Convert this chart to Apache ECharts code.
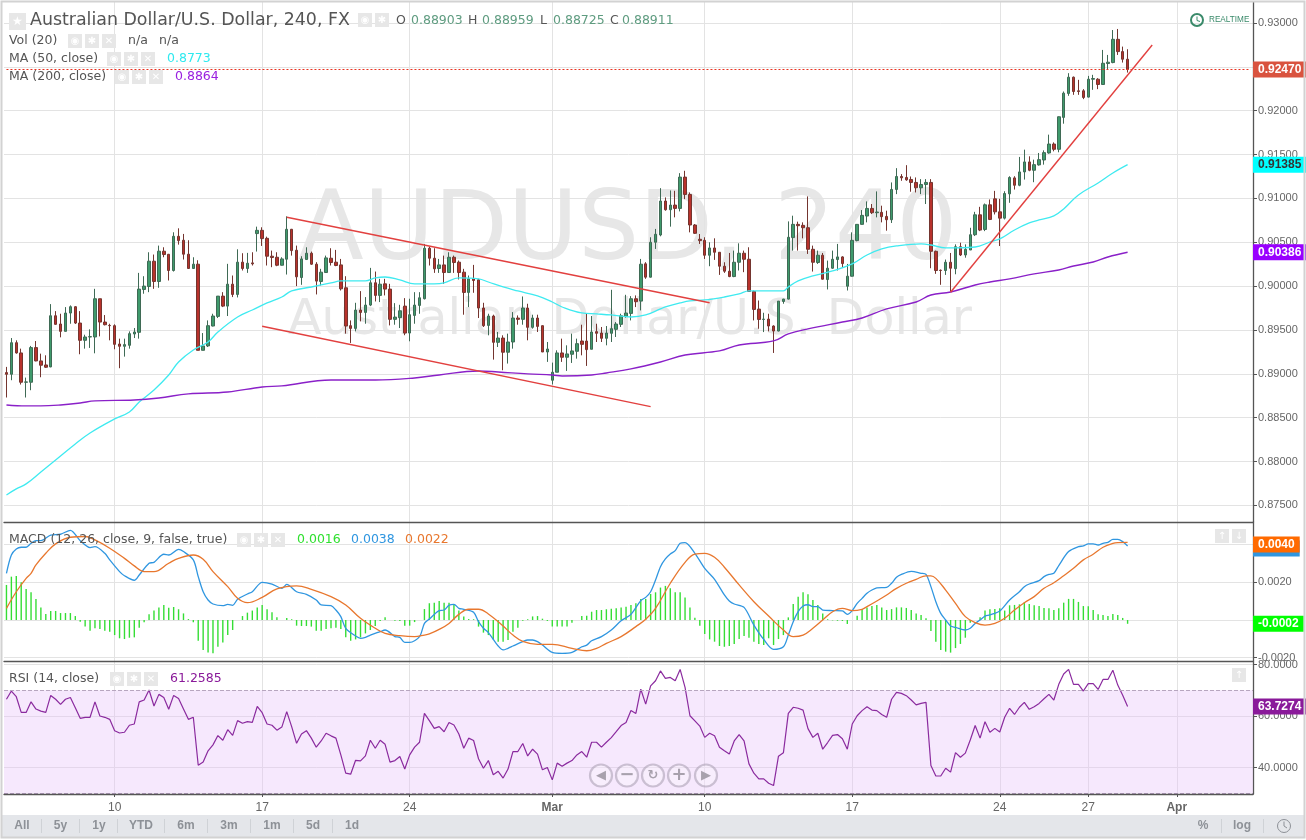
<!DOCTYPE html>
<html><head><meta charset="utf-8">
<style>html,body{margin:0;padding:0;background:#fff}#c{width:1306px;height:840px}</style>
<script src="https://cdn.jsdelivr.net/npm/echarts@6/dist/echarts.min.js"></script>
</head><body><div id="c"></div>
<script>
// --- candle values, in units of 0.00001 USD ---
const opens=[89014,88995,89355,89238,88904,88904,89299,89147,89101,89079,
89662,89568,89484,89693,89765,89579,89382,89420,89420,89856,
89590,89552,89549,89340,89314,89325,89454,89473,89962,89996,
90284,90053,90398,90363,90178,90568,90523,90364,90201,90250,
89268,89318,89545,89655,89886,89772,90022,89905,90273,90201,
90265,90599,90636,90545,90341,90329,90238,90307,90648,90409,
90098,90303,90375,90250,90053,90155,90318,90273,90242,89981,
89549,89518,89727,89700,89784,90038,89894,90026,89966,89621,
89640,89772,89465,89666,89780,89856,90432,90318,90201,90242,
90155,90329,90273,90159,89928,90083,90072,89750,89552,89659,
89359,89408,89246,89363,89636,89621,89750,89530,89636,89549,
89249,88927,89018,89238,89189,89223,89257,89374,89374,89280,
89481,89465,89405,89462,89507,89564,89655,89689,89856,89829,
90254,90102,90500,90583,90970,90871,90924,90886,91243,91045,
90697,90534,90522,90352,90435,90386,90227,90170,90109,90272,
90375,90306,89939,89738,89620,89624,89545,89488,89825,89852,
90553,90704,90693,90666,90420,90269,90352,90075,90204,90303,
90333,89999,90113,90519,90704,90799,90886,90837,90841,90795,
90757,91102,91250,91239,91216,91182,91121,91159,91182,90397,
90181,90178,90272,90199,90449,90355,90412,90586,90813,90646,
90927,90995,90847,90775,91052,91234,91150,91302,91416,91321,
91382,91438,91518,91620,91560,91924,92197,92382,92227,92227,
92155,92359,92359,92299,92538,92549,92814,92674,92587];
const closes=[88995,89355,89238,88904,88908,89299,89147,89098,89075,89662,
89564,89484,89693,89765,89579,89382,89420,89424,89856,89590,
89560,89549,89336,89314,89333,89458,89477,89966,90000,90284,
90053,90398,90360,90178,90568,90519,90364,90201,90250,89268,
89318,89549,89659,89886,89772,90022,89905,90273,90201,90261,
90254,90636,90542,90341,90326,90238,90310,90648,90405,90106,
90310,90375,90250,90057,90159,90322,90269,90235,89969,89545,
89518,89727,89700,89784,90038,89894,90022,89966,89621,89647,
89719,89465,89674,89784,89867,90432,90318,90197,90242,90155,
90329,90269,90155,89928,90083,90064,89750,89549,89659,89359,
89408,89246,89363,89636,89621,89750,89530,89636,89541,89249,
89283,89018,89238,89189,89227,89261,89344,89336,89276,89477,
89462,89405,89465,89515,89568,89662,89693,89856,89822,90250,
90102,90500,90591,90970,90871,90924,90886,91243,91045,90697,
90602,90519,90352,90435,90386,90227,90170,90109,90272,90375,
90306,89939,89734,89620,89624,89545,89488,89829,89852,90557,
90704,90689,90666,90420,90272,90352,90079,90204,90306,90333,
90257,90113,90522,90704,90807,90886,90837,90845,90792,90757,
91102,91250,91235,91212,91182,91121,91159,91182,90397,90178,
90178,90272,90204,90449,90355,90419,90586,90813,90639,90927,
90760,90847,90775,91056,91238,91150,91302,91416,91321,91385,
91442,91522,91620,91560,91931,92200,92382,92219,92219,92151,
92359,92367,92299,92541,92553,92814,92674,92587,92470];
const lows=[88730,88927,89230,88878,88730,88813,89143,88961,89067,89075,
89560,89416,89484,89571,89568,89223,89287,89295,89234,89427,
89552,89382,89280,89064,89196,89287,89408,89401,89913,89931,
89969,89981,90329,90064,90166,90473,90303,90197,90197,89268,
89268,89306,89541,89636,89761,89659,89875,89871,90178,90151,
90235,90394,90458,90235,90216,90227,90235,90132,90348,90000,
90015,90303,90242,89905,90007,90151,90235,90227,89950,89458,
89352,89484,89598,89571,89772,89825,89818,89894,89552,89560,
89522,89440,89371,89571,89685,89848,90235,90151,90151,90026,
90151,90151,90076,89674,89761,89924,89636,89534,89439,89162,
89306,89041,89117,89287,89560,89560,89382,89515,89477,89249,
89136,88878,89018,89136,89033,89124,89173,89211,89090,89280,
89363,89363,89325,89363,89420,89534,89640,89609,89761,89723,
90083,90098,90424,90568,90860,90678,90784,90852,90992,90613,
90594,90481,90310,90227,90299,90128,90151,90102,90102,90178,
90159,89939,89609,89514,89476,89484,89238,89484,89799,89848,
90405,90405,90545,90367,90166,90253,90075,89962,90197,90178,
90215,89950,90109,90511,90701,90727,90822,90784,90727,90632,
90720,91049,91201,91201,91076,91068,91049,90936,90204,90140,
90015,90128,89939,90135,90343,90324,90412,90571,90627,90627,
90753,90817,90457,90760,90950,91101,91139,91215,91310,91185,
91374,91385,91510,91537,91526,91852,92170,92181,92181,92132,
92151,92238,92246,92295,92473,92541,92636,92549,92435];
const highs=[89079,89408,89382,89287,88957,89318,89374,89230,89211,89795,
89715,89685,89761,89780,89772,89715,89446,89507,89969,89856,
89670,89571,89564,89401,89401,89484,89522,90151,90113,90386,
90360,90462,90443,90367,90614,90659,90595,90523,90329,90295,
89465,89609,89685,89886,89931,90254,90121,90420,90375,90379,
90386,90678,90671,90564,90405,90386,90329,90796,90652,90462,
90341,90443,90394,90273,90197,90348,90432,90413,90310,90113,
89609,89810,89943,89875,90208,90166,90083,90083,90026,89806,
89787,89863,89856,89931,89931,90481,90451,90432,90310,90348,
90386,90348,90292,90197,90121,90242,90083,89810,89685,89674,
89477,89439,89458,89704,89666,89882,89799,89674,89674,89552,
89363,89128,89268,89401,89325,89458,89401,89560,89685,89659,
89571,89534,89545,89958,89590,89685,89901,89886,89894,90310,
90273,90557,90652,91117,91011,91091,91087,91288,91315,91068,
90708,90594,90557,90500,90545,90386,90272,90378,90405,90488,
90405,90443,89950,89836,89696,89685,89553,89829,89855,90738,
90803,90735,90727,91023,90462,90405,90378,90291,90405,90481,
90341,90253,90613,90708,90867,90966,90936,91080,90917,90860,
91182,91345,91277,91379,91250,91239,91220,91220,91220,90405,
90189,90303,90378,90476,90495,90476,90665,90847,90904,90942,
90988,91086,90995,91082,91253,91253,91473,91556,91480,91442,
91518,91548,91727,91639,91935,92219,92428,92390,92352,92246,
92397,92409,92371,92693,92636,92920,92932,92731,92701];

// --- moving averages: sampled bar numbers and values ---
const ma50Bars=[0,2,4,7,10,14,17,22,25,27,30,33,35,38,41,43,47,50,53,56,58,62,66,68,73,75,77,80,83,87,89,92,96,98,101,104,108,111,113,117,120,123,127,130,133,134,137,139,142,146,149,151,158,159,161,164,168,172,175,178,181,186,188,191,197,200,202,205,208,210,213,215,218,222,225,228];
const ma50Vals=[87619,87688,87745,87881,88018,88201,88326,88486,88565,88679,88816,88987,89135,89272,89363,89477,89648,89728,89808,89876,89945,89990,90036,90059,90059,90093,90104,90070,90025,90025,90036,90093,90082,90047,89990,89945,89888,89819,89762,89694,89683,89671,89648,89671,89740,89762,89808,89831,89842,89876,89911,89945,89945,89990,90059,90116,90173,90253,90355,90424,90458,90481,90469,90435,90446,90503,90538,90640,90720,90754,90800,90880,91039,91176,91290,91385];
const ma200Bars=[0,4,7,11,15,18,26,31,37,45,52,56,66,75,83,88,96,100,106,111,113,119,122,127,133,138,145,149,156,159,163,170,174,179,185,188,192,197,200,204,209,214,217,221,224,228];
const ma200Vals=[88645,88634,88634,88645,88668,88691,88702,88725,88771,88793,88850,88862,88930,88930,88953,88987,89033,89021,88999,88987,88976,88987,89010,89056,89135,89215,89261,89329,89375,89455,89512,89591,89637,89740,89819,89899,89933,90013,90047,90082,90139,90184,90230,90275,90332,90386];

// --- hand-drawn trend lines: [bar, price*1e5] ends ---
const trendUpper=[[57,90785],[143,89811]];
const trendLower=[[52,89542],[131,88626]];
const trendRising=[[192,89930],[233,92749]];
const lastPriceLine=[[0,92470],[253,92470]];

// --- MACD, in units of 0.00001 ---
const macdHist=[186,230,234,200,165,147,112,67,32,48,48,37,37,37,21,-9,-35,-57,-44,-48,-57,-62,-80,-97,-101,-94,-92,-41,-12,30,50,67,80,65,69,57,35,5,-12,-110,-159,-173,-177,-142,-120,-80,-53,0,21,39,50,67,80,57,41,14,0,11,4,-30,-32,-32,-35,-57,-57,-48,-44,-41,-48,-92,-110,-103,-92,-71,-53,-32,-5,14,0,-4,-5,-30,-30,-11,0,58,89,92,101,
92,92,83,50,18,5,4,-35,-67,-80,-103,-115,-115,-106,-62,-41,-4,4,19,21,7,-5,-35,-35,-35,-35,-14,0,21,23,44,53,53,57,60,62,67,71,80,89,112,112,138,147,172,181,168,147,147,120,67,12,-30,-74,-103,-115,-138,-142,-138,-127,-101,-85,-94,-115,-127,-133,-97,-133,-101,-80,14,85,124,147,136,106,80,35,4,-2,-4,-5,-21,0,23,58,67,74,80,
67,53,58,67,67,64,53,35,27,9,-58,-115,-159,-168,-173,-149,-127,-94,-14,0,14,50,57,58,62,50,78,80,83,94,85,78,74,64,62,53,62,92,112,112,96,74,73,53,30,27,21,32,27,11,-20];
const macdBars=[0,1,2,3,4,5,6,7,9,11,13,15,17,18,20,21,23,24,26,27,29,30,32,33,35,36,38,39,40,41,42,44,45,46,47,49,50,52,54,56,57,59,61,63,64,66,67,68,69,71,72,73,74,76,77,79,80,81,82,84,85,86,88,89,90,91,92,93,95,96,97,98,100,101,102,103,105,106,107,108,109,111,113,115,117,118,119,121,123,125,127,129,130,131,132,133,134,135,136,137,138,140,142,144,146,147,148,150,152,154,156,158,159,160,161,162,163,164,165,166,168,170,171,172,173,174,175,176,177,179,180,181,182,184,186,187,188,189,190,191,192,193,195,196,197,198,199,200,202,204,206,207,208,210,211,212,213,214,216,218,219,220,221,222,223,224,225,226,227,228];
const macdVals=[248,345,377,386,386,407,421,421,451,455,476,421,384,389,354,319,257,235,211,239,301,306,349,345,375,363,319,230,150,106,85,76,83,78,110,138,150,200,191,168,189,150,136,106,80,76,53,18,-44,-85,-97,-92,-80,-62,-53,-88,-92,-119,-119,-88,-18,5,50,53,78,83,62,57,41,-9,-44,-67,-138,-159,-150,-138,-115,-106,-106,-115,-133,-172,-177,-172,-142,-133,-110,-88,-53,-4,30,103,120,150,212,283,324,350,368,407,411,354,274,216,133,101,85,67,-27,-103,-156,-142,-80,-9,44,74,81,71,71,53,50,48,30,50,88,115,142,159,170,173,195,227,242,258,248,242,177,97,35,0,-32,-39,-53,-44,-18,0,21,27,48,106,150,177,191,209,230,242,248,289,363,389,393,404,404,398,407,412,428,428,416,393];
const signalBars=[0,2,4,5,6,8,10,13,16,18,21,24,26,28,30,33,35,38,40,42,45,47,49,52,55,59,62,66,69,72,75,77,80,83,85,86,88,90,92,94,96,98,101,103,105,108,111,115,118,120,122,125,128,130,132,135,138,140,142,144,146,149,152,155,158,160,162,164,166,168,170,172,174,175,177,179,181,183,185,187,188,189,191,193,195,197,199,201,203,205,207,209,211,213,215,217,219,221,223,225,226,228];
const signalVals=[62,150,221,248,292,354,404,439,443,425,381,327,287,257,257,301,327,345,322,257,177,115,92,120,165,181,163,124,80,9,-44,-71,-83,-88,-80,-74,-50,-18,30,57,57,32,-32,-80,-113,-129,-129,-150,-163,-150,-124,-88,-35,4,62,195,306,349,354,333,280,186,97,21,-53,-88,-80,-44,0,44,62,50,57,71,101,133,168,195,216,234,234,221,159,88,18,-14,-27,-18,9,53,92,124,168,198,235,274,319,349,386,407,411,412];

// --- RSI ---
const rsiVals=[66.5,69.7,67.5,61.4,61.4,65.5,62.7,61.9,61.4,68.0,66.5,64.5,66.5,67.2,63.2,59.1,59.5,59.5,65.5,60.0,
59.5,58.7,54.3,53.4,53.7,56.4,56.9,65.5,66.2,70.1,63.9,68.4,67.2,62.6,68.0,66.8,62.7,58.7,59.5,40.9,
42.1,46.5,48.8,52.4,50.6,54.7,52.5,58.2,57.2,57.8,57.5,63.7,61.3,56.9,56.4,54.5,55.7,61.7,55.9,49.4,
53.0,54.3,51.4,47.9,50.3,53.3,52.3,51.4,44.9,37.8,37.4,42.8,42.6,44.5,50.6,47.5,50.6,49.0,42.1,42.7,
44.3,39.4,44.9,47.9,49.8,61.0,58.2,55.2,55.9,53.9,57.5,56.5,53.0,47.5,51.4,50.5,43.4,39.7,42.7,37.2,
38.5,35.9,39.4,46.2,46.2,49.3,44.5,47.1,45.2,39.1,40.0,35.2,41.7,40.5,41.7,42.7,44.9,46.2,44.0,49.8,
49.8,47.9,49.8,51.6,53.9,56.3,57.5,62.1,61.0,70.4,64.6,71.7,73.7,77.5,74.6,75.0,73.7,78.1,71.1,60.1,
58.1,56.1,51.7,53.3,52.3,47.9,46.5,45.2,50.3,52.8,50.3,41.4,37.8,35.6,35.6,33.9,33.0,44.4,45.7,61.0,
63.4,63.0,62.3,55.1,51.7,53.3,47.1,49.7,52.5,52.8,51.2,47.1,56.9,60.1,62.1,63.6,62.3,62.1,60.6,59.5,
66.5,69.2,68.8,67.9,66.2,64.3,64.9,65.3,40.8,36.7,36.7,39.7,38.2,45.8,44.0,45.6,50.7,56.3,51.4,57.8,
53.7,55.2,53.8,59.5,63.0,60.6,63.4,65.3,62.6,63.6,64.9,66.7,68.4,66.2,72.3,76.3,78.1,72.3,72.3,69.7,
72.6,72.6,70.3,74.2,74.2,77.8,72.0,68.1,63.73];

// --- axes ---
const tickBars=[22,52,82,111,142,172,202,220,238];
const tickLabels=['10','17','24','Mar','10','17','24','27','Apr'];
const priceTicks=[0.875,0.88,0.885,0.89,0.895,0.9,0.905,0.91,0.915,0.92,0.925,0.93];
const macdTicks=[-0.002,0,0.002,0.004];
const macdLabelTicks=[-0.002,0.002,0.004];
const rsiTicks=[40,60,80];

const BARS=254;
const categories=Array.from({length:BARS},(_,i)=>{const k=tickBars.indexOf(i);return k>=0?tickLabels[k]:'';});
const isTick=i=>tickBars.includes(i);
const GRID='#e3e3e3',AX='#555',TXT='#666';
const SANS='"Liberation Sans",Arial,sans-serif';
const DEJA='"DejaVu Sans",sans-serif';
const P=v=>v/1e5;
const pairs=(b,v,k)=>b.map((x,i)=>[x,v[i]*k]);
const candleData=opens.map((o,i)=>[P(o),P(closes[i]),P(lows[i]),P(highs[i])]);

function xAxis(idx,labels){return {type:'category',gridIndex:idx,data:categories,boundaryGap:true,
  axisLine:{show:true,onZero:false,lineStyle:{color:AX,width:1.3}},
  axisTick:{show:labels,alignWithLabel:true,interval:i=>isTick(i),length:3,lineStyle:{color:AX}},
  splitLine:{show:true,alignWithLabel:true,interval:i=>isTick(i),lineStyle:{color:GRID}},
  axisLabel:{show:labels,interval:i=>isTick(i),margin:8,color:TXT,fontSize:12,fontFamily:SANS,
    formatter:v=>/[A-Za-z]/.test(v)?'{b|'+v+'}':v,rich:{b:{fontWeight:'bold',fontSize:12,color:TXT,fontFamily:SANS}}}};}
function yAxis(idx,min,max,ticks,labelTicks,dec){return {type:'value',gridIndex:idx,position:'right',min,max,
  axisLine:{show:true,lineStyle:{color:AX,width:1.3}},
  axisTick:{show:true,length:4,customValues:ticks,lineStyle:{color:AX}},
  splitLine:{show:true,lineStyle:{color:GRID}},
  axisLabel:{show:true,customValues:labelTicks,margin:5,color:TXT,fontSize:11,fontFamily:SANS,formatter:v=>v.toFixed(dec)}};}
function tag(value,text,bg,fg){return {yAxis:value,lineStyle:{color:'rgba(0,0,0,0)',width:0},
  label:{show:true,position:'end',distance:0,formatter:text,color:fg||'#fff',backgroundColor:bg,fontSize:12,fontWeight:'bold',
    fontFamily:SANS,padding:[2,5,2,5],lineHeight:12,align:'left',verticalAlign:'middle'}};}
function ml(items){return {silent:true,symbol:'none',animation:false,precision:6,data:items};}
const lineSeries=(name,x,y,data,color,w,extra)=>Object.assign({name,type:'line',xAxisIndex:x,yAxisIndex:y,data,showSymbol:false,symbol:'none',
  silent:true,lineStyle:{color,width:w},itemStyle:{color},animation:false},extra||{});

// --- overlay text and icons ---
const g=[];
const T=(x,y,text,fill,size,opt)=>g.push({type:'text',x,y,z:30,silent:true,
  style:{text,fill,font:(opt&&opt.weight||'normal')+' '+size+'px '+(opt&&opt.family||DEJA),
  textVerticalAlign:'middle',textAlign:opt&&opt.align||'left'}});
const box=(x,y,s,glyph,fg)=>{g.push({type:'rect',z:29,silent:true,shape:{x,y,width:s,height:s},style:{fill:'#e7e7e7'}});
  T(x+s/2,y+s/2,glyph,fg||'#fff',Math.round(s*0.72),{align:'center'});};
const icons=(x,y,n)=>{['◉','✱','✕'].slice(0,n).forEach((c,i)=>box(x+i*17,y,14,c));};

// watermark
g.push({type:'text',x:298,y:234,z:-1,silent:true,style:{text:'AUDUSD, 240',fill:'#e7e7e7',font:'normal 96px '+DEJA,textVerticalAlign:'middle'}});
g.push({type:'text',x:288,y:321,z:-1,silent:true,style:{text:'Australian Dollar/U.S. Dollar',fill:'#e7e7e7',font:'normal 49px '+DEJA,textVerticalAlign:'middle'}});

// frame and toolbar
g.push({type:'rect',z:28,silent:true,shape:{x:1.5,y:1.5,width:1303,height:836},style:{fill:'none',stroke:'#d2d2d2',lineWidth:2}});
g.push({type:'rect',z:27,silent:true,shape:{x:2,y:815,width:1302,height:22},style:{fill:'#e4e6ea'}});
[['All',22],['5y',60.5],['1y',99],['YTD',141],['6m',186],['3m',229],['1m',272],['5d',313],['1d',352],['%',1203],['log',1242]].forEach(a=>T(a[1],826,a[0],'#8d9197',12,{align:'center',weight:'bold',family:SANS}));
[41,79,117,164,207,250,293,332,1221,1263].forEach(x=>g.push({type:'rect',z:28,silent:true,shape:{x,y:819,width:1,height:14},style:{fill:'#cfd2d6'}}));
g.push({type:'circle',z:28,silent:true,shape:{cx:1284,cy:826,r:6.5},style:{fill:'none',stroke:'#8d9197',lineWidth:1}});
g.push({type:'polyline',z:28,silent:true,shape:{points:[[1284,821.5],[1284,826],[1287,828]]},style:{fill:'none',stroke:'#8d9197',lineWidth:1}});

// header
box(9,13,17,'★');
T(30,20,'Australian Dollar/U.S. Dollar, 240, FX','#555',17.4);
icons(358,13,2);
[['O',396,'#555'],['0.88903',411,'#5f9c80'],['H',468,'#555'],['0.88959',482,'#5f9c80'],['L',540,'#555'],['0.88725',553,'#5f9c80'],['C',610,'#555'],['0.88911',622,'#5f9c80']].forEach(a=>T(a[1],21,a[0],a[2],12.5));
T(9,41,'Vol (20)','#555',12.5); icons(68,34,3); T(128,41,'n/a','#555',12.5); T(159,41,'n/a','#555',12.5);
T(9,59,'MA (50, close)','#555',12.5); icons(107,52,3); T(167,59,'0.8773','#2fe9ef',12.5);
T(9,77,'MA (200, close)','#555',12.5); icons(115,70,3); T(175,77,'0.8864','#9a20e0',12.5);
T(9,540,'MACD (12, 26, close, 9, false, true)','#555',12.5); icons(237,533,3);
T(297,540,'0.0016','#2fe02f',12.5); T(351,540,'0.0038','#2f96e0',12.5); T(405,540,'0.0022','#e8772e',12.5);
T(9,679,'RSI (14, close)','#555',12.5); icons(110,672,3); T(170,679,'61.2585','#8a1a9a',12.5);

// realtime badge
g.push({type:'circle',z:28,silent:true,shape:{cx:1197,cy:20,r:6},style:{fill:'none',stroke:'#3a8a6a',lineWidth:2}});
g.push({type:'polyline',z:28,silent:true,shape:{points:[[1197,16.5],[1197,20.5],[1200,21.5]]},style:{fill:'none',stroke:'#3a8a6a',lineWidth:1}});
T(1209,20,'REALTIME','#3a8a6a',8.2,{family:SANS});

// pane arrows
box(1215,529,14,'↑'); box(1232,529,14,'↓'); box(1232,668,14,'↑');

// navigator buttons
[[601,'◀'],[627,'−'],[653,'↻'],[679,'+'],[706,'▶']].forEach(a=>{
  g.push({type:'circle',z:28,silent:true,shape:{cx:a[0],cy:775.5,r:11},style:{fill:'rgba(255,255,255,0.25)',stroke:'rgba(165,155,175,0.55)',lineWidth:2.2}});
  T(a[0],775.5,a[1],'#a8a1ad',a[1]==='−'||a[1]==='+'?18:13,{align:'center',weight:'bold'});
});

const chart=echarts.init(document.getElementById('c'),null,{renderer:'canvas'});
chart.setOption({
  animation:false,backgroundColor:'#fff',
  grid:[{left:4,width:1249,top:2,height:520},{left:4,width:1249,top:522,height:139},{left:4,width:1249,top:661.5,height:132.5}],
  xAxis:[xAxis(0,false),xAxis(1,false),xAxis(2,true)],
  yAxis:[yAxis(0,0.873105,0.932395,priceTicks,priceTicks,5),yAxis(1,-0.002175,0.0052,macdTicks,macdLabelTicks,4),yAxis(2,29.71,81.17,rsiTicks,rsiTicks,4)],
  graphic:{elements:g},
  series:[
    {type:'candlestick',name:'AUDUSD',xAxisIndex:0,yAxisIndex:0,data:candleData,barWidth:3,silent:true,
      itemStyle:{color:'#3f9a6c',color0:'#b8322c',borderColor:'#3f6a55',borderColor0:'#74352f',borderWidth:1}},
    lineSeries('MA 50',0,0,pairs(ma50Bars,ma50Vals,1e-5),'#3feaf0',1.3,{smooth:0.4,z:3,markLine:ml([
      tag(P(closes[closes.length-1]),'0.92470','#d9533f'),
      tag(0.91385,'0.91385','#00ffff','#333')])}),
    lineSeries('MA 200',0,0,pairs(ma200Bars,ma200Vals,1e-5),'#8a20c8',1.4,{smooth:0.4,z:3,markLine:ml([tag(0.90386,'0.90386','#9900ff')])}),
    lineSeries('Last price',0,0,pairs(lastPriceLine.map(a=>a[0]),lastPriceLine.map(a=>a[1]),1e-5),'#e8301f',1,{z:3,lineStyle:{color:'#e8301f',width:1,type:[2,2]}}),
    lineSeries('Upper channel',0,0,pairs(trendUpper.map(a=>a[0]),trendUpper.map(a=>a[1]),1e-5),'#e2403f',1.4,{z:4}),
    lineSeries('Lower channel',0,0,pairs(trendLower.map(a=>a[0]),trendLower.map(a=>a[1]),1e-5),'#e2403f',1.4,{z:4}),
    lineSeries('Rising trend',0,0,pairs(trendRising.map(a=>a[0]),trendRising.map(a=>a[1]),1e-5),'#e2403f',1.4,{z:4}),

    {type:'bar',name:'Histogram',xAxisIndex:1,yAxisIndex:1,data:macdHist.map(v=>v*1e-5),barWidth:1.4,silent:true,itemStyle:{color:'#35dd35'},
      markLine:ml([tag(-0.0002,'-0.0002','#00ff00')])},
    lineSeries('MACD',1,1,pairs(macdBars,macdVals,1e-5),'#2f96e0',1.3,{smooth:0.3,markLine:ml([tag(0.0038,'0.0038','#2f96e0')])}),
    lineSeries('Signal',1,1,pairs(signalBars,signalVals,1e-5),'#e8772e',1.3,{smooth:0.4,markLine:ml([tag(0.0040,'0.0040','#ff6a00')])}),

    lineSeries('RSI',2,2,rsiVals,'#8a2a9e',1.2,{
      markArea:{silent:true,animation:false,itemStyle:{color:'rgba(230,190,250,0.36)'},data:[[{yAxis:70},{yAxis:30}]]},
      markLine:ml([
        {yAxis:70,lineStyle:{color:'#b7a6bf',type:'dashed',width:1},label:{show:false}},
        {yAxis:30,lineStyle:{color:'#9c8ba5',type:'dashed',width:1},label:{show:false}},
        tag(63.7274,'63.7274','#8a1a9a')])})
  ]
});
</script></body></html>
